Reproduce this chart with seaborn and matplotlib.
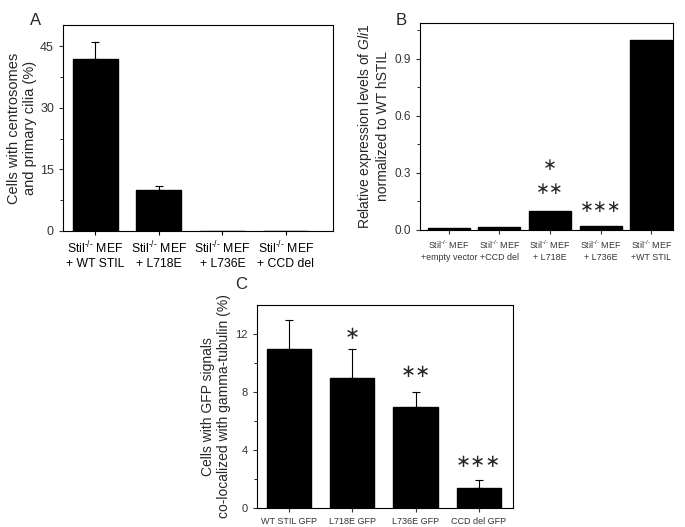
import numpy as np
import pandas as pd
import seaborn as sns
import matplotlib.pyplot as plt

# Dados
sup = r'Stil$^{\text{-/-}}$ MEF'
a_grupos = [sup + '\n+ WT STIL', sup + '\n+ L718E', sup + '\n+ L736E', sup + '\n+ CCD del']
a_valores = [42, 10, 0, 0]
a_erros = [4, 1, 0, 0]

b_grupos = [sup + '\n+empty vector', sup + '\n+CCD del', sup + '\n+ L718E',
            sup + '\n+ L736E', sup + '\n+WT STIL']
b_valores = [0.008, 0.015, 0.1, 0.02, 1.0]
b_estrelas = ['', '', '\u2217\n\u2217\u2217', '\u2217\u2217\u2217', '']
b_estrelas_y = [0, 0, 0.17, 0.075, 0]

c_grupos = ['WT STIL GFP', 'L718E GFP', 'L736E GFP', 'CCD del GFP']
c_valores = [11, 9, 7, 1.4]
c_erros = [2, 2, 1, 0.5]
c_estrelas = ['', '\u2217', '\u2217\u2217', '\u2217\u2217\u2217']
c_estrelas_y = [0, 12.0, 9.4, 3.2]

sns.set_style('ticks')
plt.rcParams['font.family'] = ['Liberation Sans', 'DejaVu Sans']
plt.rcParams['mathtext.fontset'] = 'custom'
plt.rcParams['mathtext.rm'] = 'Liberation Sans'
plt.rcParams['mathtext.it'] = 'Liberation Sans:italic'
plt.rcParams['xtick.direction'] = 'out'
plt.rcParams['ytick.direction'] = 'out'

fig = plt.figure(figsize=(6.85, 5.27), dpi=100)
ax_a = fig.add_axes([0.092, 0.5617, 0.394, 0.391])
ax_b = fig.add_axes([0.613, 0.5636, 0.369, 0.393])
ax_c = fig.add_axes([0.375, 0.0361, 0.374, 0.385])


def barras(ax, grupos, valores, largura):
    df = pd.DataFrame({'grupo': grupos, 'valor': valores})
    sns.barplot(data=df, x='grupo', y='valor', color='black', width=largura,
                edgecolor='black', saturation=1, ax=ax)
    ax.set_xlabel('')
    for s in ax.spines.values():
        s.set_visible(True)
        s.set_color('black')
        s.set_linewidth(0.8)
    ax.tick_params(axis='both', length=3, width=0.8, color='black')
    ax.tick_params(axis='y', which='minor', length=2, width=0.6, color='black')


# Painel A
barras(ax_a, a_grupos, a_valores, 0.71)
x = np.arange(len(a_valores))
m = np.array(a_erros) > 0
ax_a.errorbar(x[m], np.array(a_valores)[m], yerr=[np.zeros(m.sum()), np.array(a_erros)[m]],
              fmt='none', ecolor='black', elinewidth=0.8, capsize=3, capthick=0.8)
ax_a.set_xlim(-0.51, 3.74)
ax_a.set_ylim(0, 50.2)
ax_a.set_yticks([0, 15, 30, 45])
ax_a.set_yticks([7.5, 22.5, 37.5], minor=True)
ax_a.set_ylabel('Cells with centrosomes\nand primary cilia (%)', fontsize=10.5, labelpad=2)
ax_a.tick_params(axis='y', labelsize=9, colors='#333333')
ax_a.tick_params(axis='x', labelsize=8.8, colors='black')
fig.text(0.044, 0.975, 'A', fontsize=12, va='top')

# Painel B
barras(ax_b, b_grupos, b_valores, 0.83)
for i, (t, yy) in enumerate(zip(b_estrelas, b_estrelas_y)):
    if t:
        ax_b.text(i, yy, t, ha='center', va='bottom', fontsize=12, linespacing=1.4,
                  family='DejaVu Sans')
ax_b.set_xlim(-0.57, 4.42)
ax_b.set_ylim(0, 1.09)
ax_b.set_yticks([0, 0.3, 0.6, 0.9])
ax_b.set_yticklabels(['0.0', '0.3', '0.6', '0.9'])
ax_b.set_yticks([0.15, 0.45, 0.75, 1.05], minor=True)
ax_b.set_ylabel('Relative expression levels of $\\it{Gli1}$\nnormalized to WT hSTIL',
                fontsize=10, labelpad=3)
ax_b.tick_params(axis='y', labelsize=8.5, colors='#333333')
ax_b.tick_params(axis='x', labelsize=6.4, colors='#333333')
fig.text(0.577, 0.975, 'B', fontsize=12, va='top')

# Painel C
barras(ax_c, c_grupos, c_valores, 0.70)
x = np.arange(len(c_valores))
ax_c.errorbar(x, c_valores, yerr=[np.zeros(len(c_erros)), c_erros],
              fmt='none', ecolor='black', elinewidth=0.8, capsize=3, capthick=0.8)
for i, (t, yy) in enumerate(zip(c_estrelas, c_estrelas_y)):
    if t:
        ax_c.text(i, yy, t, ha='center', va='center', fontsize=13, family='DejaVu Sans')
ax_c.set_xlim(-0.505, 3.54)
ax_c.set_ylim(0, 14.03)
ax_c.set_yticks([0, 4, 8, 12])
ax_c.set_yticks([2, 6, 10], minor=True)
ax_c.set_ylabel('Cells with GFP signals\nco-localized with gamma-tubulin (%)',
                fontsize=10, labelpad=3)
ax_c.tick_params(axis='y', labelsize=8, colors='#333333')
ax_c.tick_params(axis='x', labelsize=6.5, colors='#333333')
fig.text(0.343, 0.475, 'C', fontsize=12, va='top')

fig.savefig('out.png', dpi=100)
